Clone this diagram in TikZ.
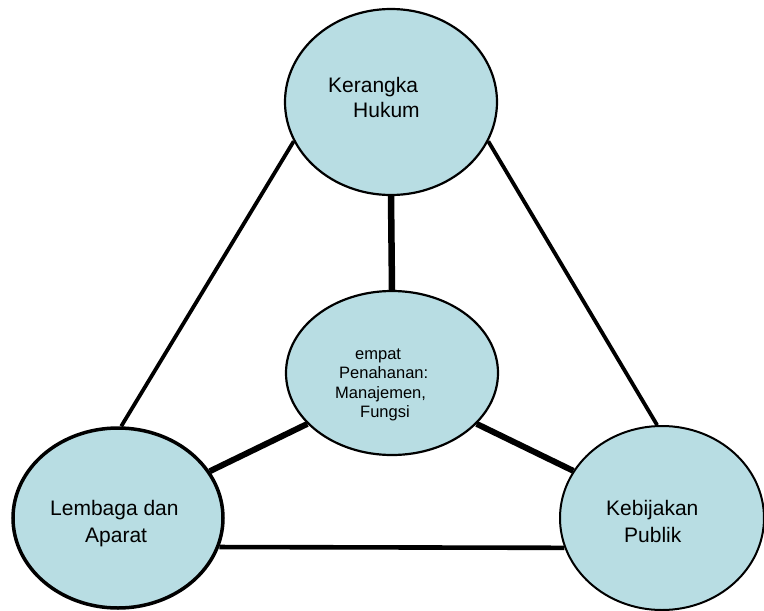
\documentclass[tikz,border=0pt]{standalone}
\usepackage{fontspec}
\setmainfont{Liberation Sans}
\usetikzlibrary{shapes.geometric}
\definecolor{bubble}{RGB}{184,221,227}
\begin{document}
\begin{tikzpicture}[x=1pt,y=-1pt,
  bub/.style={ellipse,draw=black,fill=bubble,inner sep=0pt},
  big/.style={font=\fontsize{21}{25}\selectfont,anchor=base west,inner sep=0pt},
  small/.style={font=\fontsize{16.5}{20}\selectfont,anchor=base west,inner sep=0pt},
  thin/.style={line width=3.8pt},
  thick/.style={line width=6pt}]
\useasboundingbox[fill=white] (0,0) rectangle (764,611);
\node[bub,line width=2.2pt,minimum width=212pt,minimum height=186pt] (top) at (391,102) {};
\node[bub,line width=2.2pt,minimum width=212pt,minimum height=164pt] (mid) at (392,373) {};
\node[bub,line width=3.5pt,minimum width=210pt,minimum height=180pt] (left) at (118,518) {};
\node[bub,line width=2pt,minimum width=204pt,minimum height=184pt] (right) at (662,518) {};
% connectors
\draw[thin] (top.202) -- (left.88);
\draw[thin] (top.338) -- (right.93);
\draw[line width=6.5pt] (top.270) -- (mid.90);
\draw[thick] (mid.211) -- (left.27);
\draw[thick] (mid.329) -- (right.152);
\draw[line width=4.6pt] (left.344) -- (right.197);
% texts
\node[big] (t1) at (328,92) {Kerangka};
\node[big] (t2) at (353,117) {Hukum};
\node[small] (c1) at (355,359) {empat};
\node[small] (c2) at (339,378) {Penahanan:};
\node[small] (c3) at (335,398) {Manajemen,};
\node[small] (c4) at (360,417) {Fungsi};
\node[big] (l1) at (50,515) {Lembaga dan};
\node[big] (l2) at (85,542) {Aparat};
\node[big] (r1) at (606,515) {Kebijakan};
\node[big] (r2) at (624,542) {Publik};
\end{tikzpicture}
\end{document}
